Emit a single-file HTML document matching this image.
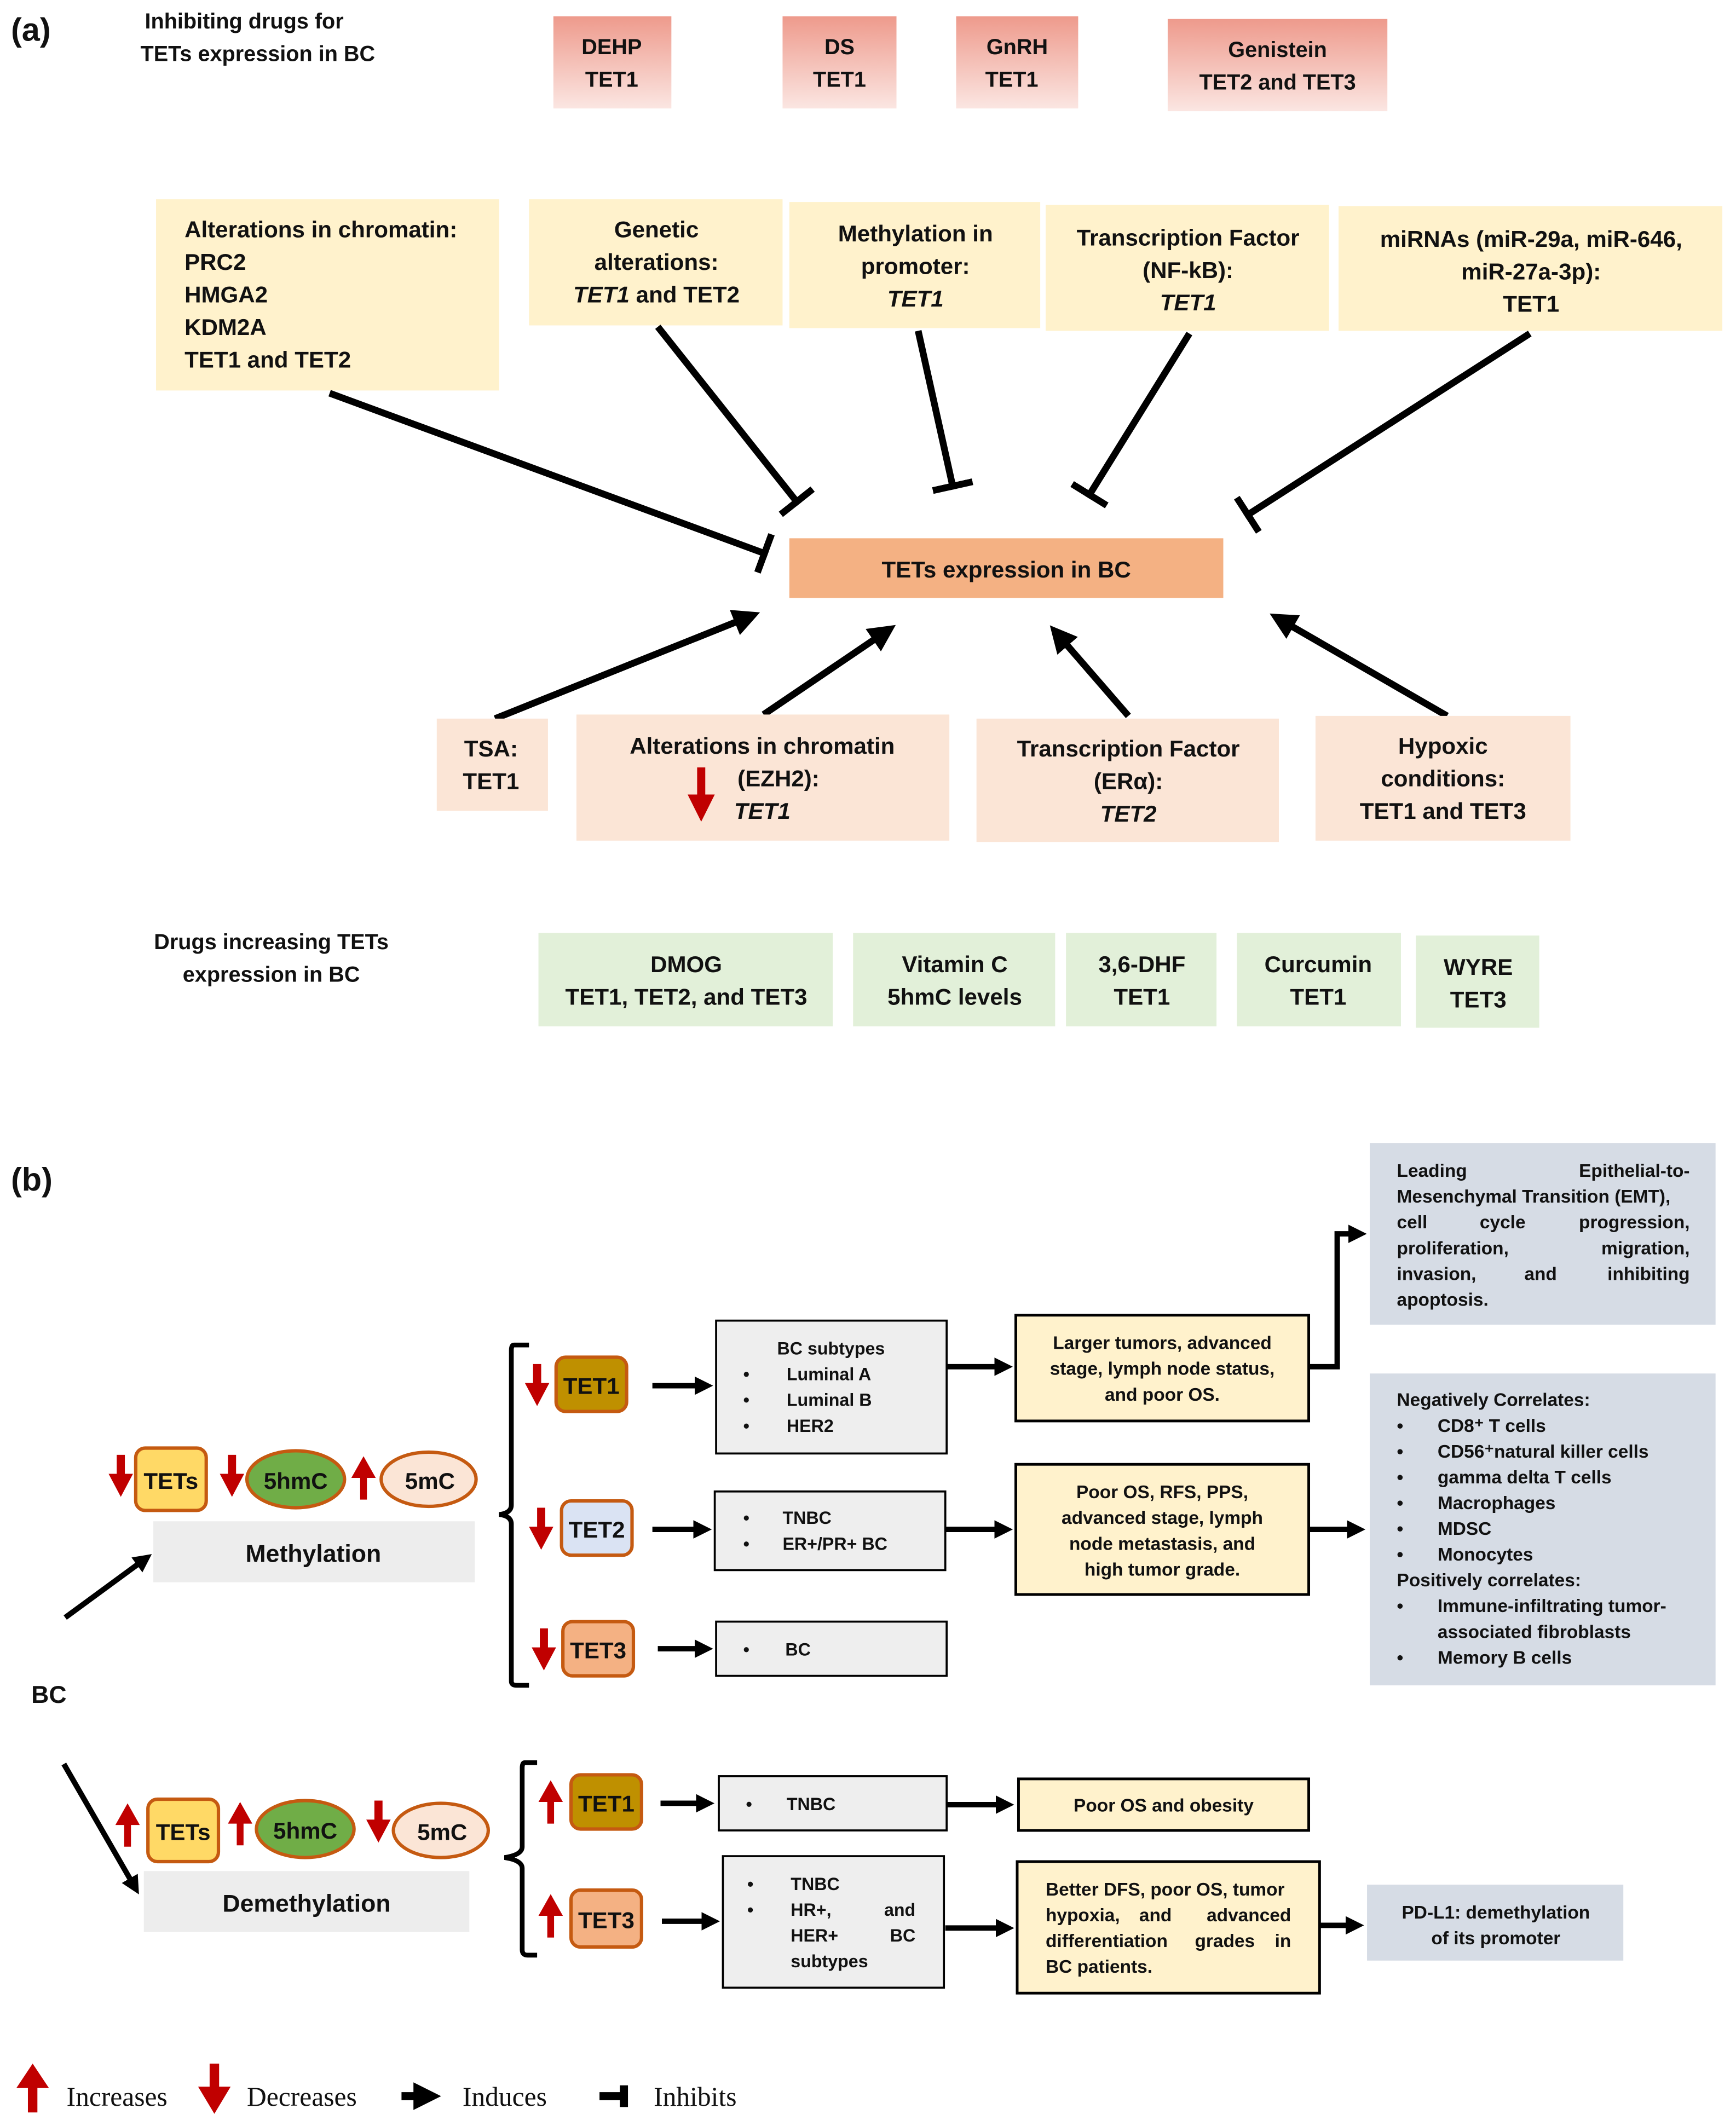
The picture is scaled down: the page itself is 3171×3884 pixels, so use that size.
<!DOCTYPE html>
<html><head><meta charset="utf-8"><style>
html,body{margin:0;padding:0;background:#fff}
svg{display:block}
text{font-family:"Liberation Sans",sans-serif;font-weight:bold;fill:#111}
text.serif{font-family:"Liberation Serif",serif;font-weight:normal}
</style></head><body>
<svg width="3171" height="3884" viewBox="0 0 1280 1568" xmlns="http://www.w3.org/2000/svg">
<defs>
<linearGradient id="rg" x1="0" y1="0" x2="0" y2="1"><stop offset="0" stop-color="#ee9a8c"/><stop offset="1" stop-color="#fbe6e2"/></linearGradient>
<marker id="ah" markerWidth="4" markerHeight="4" refX="2.2" refY="2" orient="auto" markerUnits="strokeWidth"><path d="M0,0 L4,2 L0,4 Z" fill="#000"/></marker>
<marker id="ah2" markerWidth="4" markerHeight="4" refX="2.2" refY="2" orient="auto" markerUnits="strokeWidth"><path d="M0,0.3 L3.4,2 L0,3.7 Z" fill="#000"/></marker>
<marker id="tb" markerWidth="2" markerHeight="6" refX="1" refY="3" orient="auto" markerUnits="strokeWidth"><rect x="0" y="0" width="1" height="6" fill="#000"/></marker>
</defs>
<text x="8" y="30" font-size="24">(a)</text>
<text font-size="16" text-anchor="middle"><tspan x="180" y="21">Inhibiting drugs for</tspan><tspan x="190" y="45">TETs expression in BC</tspan></text>
<g font-size="16" text-anchor="middle">
<rect x="408" y="12" width="87" height="68" fill="url(#rg)"/><text x="451" y="40">DEHP</text><text x="451" y="64">TET1</text>
<rect x="577" y="12" width="84" height="68" fill="url(#rg)"/><text x="619" y="40">DS</text><text x="619" y="64">TET1</text>
<rect x="705" y="12" width="90" height="68" fill="url(#rg)"/><text x="750" y="40">GnRH</text><text x="746" y="64">TET1</text>
<rect x="861" y="14" width="162" height="68" fill="url(#rg)"/><text x="942" y="42">Genistein</text><text x="942" y="66">TET2 and TET3</text>
</g>
<g fill="#fff2cc">
<rect x="115" y="147" width="253" height="141"/><rect x="390" y="147" width="187" height="93"/><rect x="582" y="149" width="185" height="93"/><rect x="771" y="151" width="209" height="93"/><rect x="987" y="152" width="283" height="92"/>
</g>
<g font-size="17">
<text x="136" y="175">Alterations in chromatin:</text><text x="136" y="199">PRC2</text><text x="136" y="223">HMGA2</text><text x="136" y="247">KDM2A</text><text x="136" y="271">TET1 and TET2</text>
</g>
<g font-size="17" text-anchor="middle">
<text x="484" y="175">Genetic</text><text x="484" y="199">alterations:</text><text x="484" y="223"><tspan font-style="italic">TET1</tspan> and TET2</text>
<text x="675" y="178">Methylation in</text><text x="675" y="202">promoter:</text><text x="675" y="226" font-style="italic">TET1</text>
<text x="876" y="181">Transcription Factor</text><text x="876" y="205">(NF-kB):</text><text x="876" y="229" font-style="italic">TET1</text>
<text x="1129" y="182">miRNAs (miR-29a, miR-646,</text><text x="1129" y="206">miR-27a-3p):</text><text x="1129" y="230">TET1</text>
</g>
<rect x="582" y="397" width="320" height="44" fill="#f4b183"/>
<text x="742" y="426" font-size="17" text-anchor="middle">TETs expression in BC</text>
<g stroke="#000" stroke-width="5" fill="none" marker-end="url(#tb)">
<line x1="243" y1="290" x2="566" y2="409"/>
<line x1="485" y1="241" x2="589" y2="372"/>
<line x1="677" y1="244" x2="703" y2="361"/>
<line x1="877" y1="246" x2="802" y2="367"/>
<line x1="1128" y1="246" x2="918" y2="381"/>
</g>
<g stroke="#000" stroke-width="5" fill="none" marker-end="url(#ah)">
<line x1="365" y1="530" x2="552" y2="455"/>
<line x1="563" y1="527" x2="653" y2="466"/>
<line x1="832" y1="528" x2="780" y2="468"/>
<line x1="1067" y1="528" x2="944" y2="457"/>
</g>
<g fill="#fbe5d6">
<rect x="322" y="530" width="82" height="68"/><rect x="425" y="527" width="275" height="93"/><rect x="720" y="530" width="223" height="91"/><rect x="970" y="528" width="188" height="92"/>
</g>
<g font-size="17" text-anchor="middle">
<text x="362" y="558">TSA:</text><text x="362" y="582">TET1</text>
<text x="562" y="556">Alterations in chromatin</text><text x="574" y="580">(EZH2):</text><text x="562" y="604" font-style="italic">TET1</text>
<text x="832" y="558">Transcription Factor</text><text x="832" y="582">(ERα):</text><text x="832" y="606" font-style="italic">TET2</text>
<text x="1064" y="556">Hypoxic</text><text x="1064" y="580">conditions:</text><text x="1064" y="604">TET1 and TET3</text>
</g>
<g fill="#c00000"><rect x="514" y="566" width="6" height="22"/><path d="M507,586 L527,586 L517,606 Z"/></g>
<text font-size="16" text-anchor="middle"><tspan x="200" y="700">Drugs increasing TETs</tspan><tspan x="200" y="724">expression in BC</tspan></text>
<g fill="#e2f0d9">
<rect x="397" y="688" width="217" height="69"/><rect x="629" y="688" width="149" height="69"/><rect x="786" y="688" width="111" height="69"/><rect x="912" y="688" width="121" height="69"/><rect x="1044" y="690" width="91" height="68"/>
</g>
<g font-size="17" text-anchor="middle">
<text x="506" y="717">DMOG</text><text x="506" y="741">TET1, TET2, and TET3</text>
<text x="704" y="717">Vitamin C</text><text x="704" y="741">5hmC levels</text>
<text x="842" y="717">3,6-DHF</text><text x="842" y="741">TET1</text>
<text x="972" y="717">Curcumin</text><text x="972" y="741">TET1</text>
<text x="1090" y="719">WYRE</text><text x="1090" y="743">TET3</text>
</g>

<!-- (b) -->
<text x="8" y="878" font-size="24">(b)</text>
<text x="23" y="1256" font-size="18">BC</text>
<line x1="48" y1="1193" x2="108" y2="1149" stroke="#000" stroke-width="4" marker-end="url(#ah2)"/>
<line x1="47" y1="1301" x2="100" y2="1393" stroke="#000" stroke-width="4" marker-end="url(#ah2)"/>
<rect x="113" y="1122" width="237" height="45" fill="#ededed"/>
<text x="231" y="1152" font-size="18" text-anchor="middle">Methylation</text>
<rect x="106" y="1380" width="240" height="45" fill="#ededed"/>
<text x="226" y="1410" font-size="18" text-anchor="middle">Demethylation</text>

<g stroke="#c55a11" stroke-width="2.5">
<rect x="100" y="1068" width="52" height="46" rx="7" fill="#ffd966"/>
<ellipse cx="218" cy="1091" rx="36" ry="21" fill="#70ad47"/>
<ellipse cx="316" cy="1091" rx="35" ry="20" fill="#fbe5d6"/>
<rect x="109" y="1327" width="52" height="46" rx="7" fill="#ffd966"/>
<ellipse cx="225" cy="1349" rx="36" ry="21" fill="#70ad47"/>
<ellipse cx="325" cy="1350" rx="35" ry="20" fill="#fbe5d6"/>
<rect x="410" y="1001" width="52" height="40" rx="7" fill="#bf9000"/>
<rect x="414" y="1107" width="52" height="40" rx="7" fill="#dae3f3"/>
<rect x="415" y="1196" width="52" height="40" rx="7" fill="#f4b183"/>
<rect x="421" y="1309" width="52" height="40" rx="7" fill="#bf9000"/>
<rect x="421" y="1394" width="52" height="42" rx="7" fill="#f4b183"/>
</g>
<g font-size="17" text-anchor="middle">
<text x="126" y="1098">TETs</text><text x="218" y="1098">5hmC</text><text x="317" y="1098">5mC</text>
<text x="135" y="1357">TETs</text><text x="225" y="1356">5hmC</text><text x="326" y="1357">5mC</text>
<text x="436" y="1028">TET1</text><text x="440" y="1134">TET2</text><text x="441" y="1223">TET3</text>
<text x="447" y="1336">TET1</text><text x="447" y="1422">TET3</text>
</g>
<!-- red arrows -->
<g fill="#c00000">
<g transform="translate(89,1073)"><rect x="-3" y="0" width="6" height="16"/><path d="M-9,14 L9,14 L0,31 Z"/></g>
<g transform="translate(171,1073)"><rect x="-3" y="0" width="6" height="16"/><path d="M-9,14 L9,14 L0,31 Z"/></g>
<g transform="translate(268,1074)"><rect x="-2.5" y="14" width="5" height="18"/><path d="M-9,16 L9,16 L0,0 Z"/></g>
<g transform="translate(396,1006)"><rect x="-3" y="0" width="6" height="16"/><path d="M-9,14 L9,14 L0,31 Z"/></g>
<g transform="translate(399,1112)"><rect x="-3" y="0" width="6" height="16"/><path d="M-9,14 L9,14 L0,31 Z"/></g>
<g transform="translate(401,1201)"><rect x="-3" y="0" width="6" height="16"/><path d="M-9,14 L9,14 L0,31 Z"/></g>
<g transform="translate(94,1330)"><rect x="-2.5" y="14" width="5" height="18"/><path d="M-9,16 L9,16 L0,0 Z"/></g>
<g transform="translate(177,1329)"><rect x="-2.5" y="14" width="5" height="18"/><path d="M-9,16 L9,16 L0,0 Z"/></g>
<g transform="translate(279,1328)"><rect x="-3" y="0" width="6" height="16"/><path d="M-9,14 L9,14 L0,31 Z"/></g>
<g transform="translate(406,1313)"><rect x="-2.5" y="14" width="5" height="18"/><path d="M-9,16 L9,16 L0,0 Z"/></g>
<g transform="translate(406,1397)"><rect x="-2.5" y="14" width="5" height="18"/><path d="M-9,16 L9,16 L0,0 Z"/></g>
</g>
<!-- braces -->
<g stroke="#000" stroke-width="3.5" fill="none">
<path d="M390,992 L379,992 Q377,992 377,996 L377,1110 Q377,1116 368,1117 Q377,1118 377,1124 L377,1240 Q377,1243 381,1243 L390,1243"/>
<path d="M396,1300 L387,1300 Q385,1300 385,1304 L385,1362 Q385,1368 372,1370 Q385,1372 385,1378 L385,1438 Q385,1442 389,1442 L396,1442"/>
</g>
<g stroke="#000" stroke-width="4" fill="none" marker-end="url(#ah2)">
<line x1="481" y1="1022" x2="521" y2="1022"/>
<line x1="481" y1="1128" x2="520" y2="1128"/>
<line x1="485" y1="1216" x2="521" y2="1216"/>
<line x1="487" y1="1330" x2="522" y2="1330"/>
<line x1="488" y1="1417" x2="526" y2="1417"/>
<line x1="698" y1="1008" x2="742" y2="1008"/>
<line x1="697" y1="1128" x2="742" y2="1128"/>
<line x1="698" y1="1331" x2="743" y2="1331"/>
<line x1="697" y1="1422" x2="743" y2="1422"/>
<line x1="965" y1="1128" x2="1002" y2="1128"/>
<line x1="973" y1="1420" x2="1001" y2="1420"/>
<path d="M965,1008 L986,1008 L986,910 L1003,910"/>
</g>
<g stroke="#000" stroke-width="1.5" fill="#eeeeee">
<rect x="528" y="974" width="170" height="98"/>
<rect x="527" y="1100" width="170" height="58"/>
<rect x="528" y="1196" width="170" height="40"/>
<rect x="530" y="1310" width="168" height="40"/>
<rect x="533" y="1369" width="163" height="97"/>
</g>
<g font-size="13">
<text x="573" y="999">BC subtypes</text>
<text x="548" y="1018">•</text><text x="580" y="1018">Luminal A</text>
<text x="548" y="1037">•</text><text x="580" y="1037">Luminal B</text>
<text x="548" y="1056">•</text><text x="580" y="1056">HER2</text>
<text x="548" y="1124">•</text><text x="577" y="1124">TNBC</text>
<text x="548" y="1143">•</text><text x="577" y="1143">ER+/PR+ BC</text>
<text x="548" y="1221">•</text><text x="579" y="1221">BC</text>
<text x="550" y="1335">•</text><text x="580" y="1335">TNBC</text>
<text x="551" y="1394">•</text><text x="583" y="1394">TNBC</text>
<text x="551" y="1413">•</text><text x="583" y="1413">HR+,</text><text x="675" y="1413" text-anchor="end">and</text>
<text x="583" y="1432">HER+</text><text x="675" y="1432" text-anchor="end">BC</text>
<text x="583" y="1451">subtypes</text>
</g>
<g stroke="#000" stroke-width="2" fill="#fff2cc">
<rect x="749" y="970" width="216" height="78"/>
<rect x="749" y="1080" width="216" height="96"/>
<rect x="751" y="1312" width="214" height="38"/>
<rect x="750" y="1373" width="223" height="97"/>
</g>
<g font-size="13.5" text-anchor="middle">
<text x="857" y="995">Larger tumors, advanced</text><text x="857" y="1014">stage, lymph node status,</text><text x="857" y="1033">and poor OS.</text>
<text x="857" y="1105">Poor OS, RFS, PPS,</text><text x="857" y="1124">advanced stage, lymph</text><text x="857" y="1143">node metastasis, and</text><text x="857" y="1162">high tumor grade.</text>
<text x="858" y="1336">Poor OS and obesity</text>
</g>
<g font-size="13.5">
<text x="771" y="1398">Better DFS, poor OS, tumor</text>
<text x="771" y="1417">hypoxia,</text><text x="840" y="1417">and</text><text x="952" y="1417" text-anchor="end">advanced</text>
<text x="771" y="1436">differentiation</text><text x="881" y="1436">grades</text><text x="952" y="1436" text-anchor="end">in</text>
<text x="771" y="1455">BC patients.</text>
</g>
<g fill="#d6dce5">
<rect x="1010" y="843" width="255" height="134"/>
<rect x="1010" y="1013" width="255" height="230"/>
<rect x="1008" y="1390" width="189" height="56"/>
</g>
<g font-size="13.5">
<text x="1030" y="868">Leading</text><text x="1246" y="868" text-anchor="end">Epithelial-to-</text>
<text x="1030" y="887">Mesenchymal Transition (EMT),</text>
<text x="1030" y="906">cell</text><text x="1108" y="906" text-anchor="middle">cycle</text><text x="1246" y="906" text-anchor="end">progression,</text>
<text x="1030" y="925">proliferation,</text><text x="1246" y="925" text-anchor="end">migration,</text>
<text x="1030" y="944">invasion,</text><text x="1136" y="944" text-anchor="middle">and</text><text x="1246" y="944" text-anchor="end">inhibiting</text>
<text x="1030" y="963">apoptosis.</text>
<text x="1030" y="1037">Negatively Correlates:</text>
<text x="1030" y="1056">•</text><text x="1060" y="1056">CD8⁺ T cells</text>
<text x="1030" y="1075">•</text><text x="1060" y="1075">CD56⁺natural killer cells</text>
<text x="1030" y="1094">•</text><text x="1060" y="1094">gamma delta T cells</text>
<text x="1030" y="1113">•</text><text x="1060" y="1113">Macrophages</text>
<text x="1030" y="1132">•</text><text x="1060" y="1132">MDSC</text>
<text x="1030" y="1151">•</text><text x="1060" y="1151">Monocytes</text>
<text x="1030" y="1170">Positively correlates:</text>
<text x="1030" y="1189">•</text><text x="1060" y="1189">Immune-infiltrating tumor-</text>
<text x="1060" y="1208">associated fibroblasts</text>
<text x="1030" y="1227">•</text><text x="1060" y="1227">Memory B cells</text>
<text x="1103" y="1415" text-anchor="middle">PD-L1: demethylation</text>
<text x="1103" y="1434" text-anchor="middle">of its promoter</text>
</g>
<!-- legend -->
<g fill="#c00000">
<g transform="translate(24,1522)"><rect x="-3.5" y="16" width="7" height="20"/><path d="M-12,18 L12,18 L0,0 Z"/></g>
<g transform="translate(158,1522)"><rect x="-3.5" y="0" width="7" height="20"/><path d="M-12,17 L12,17 L0,37 Z"/></g>
</g>
<line x1="296" y1="1546" x2="318" y2="1546" stroke="#000" stroke-width="6" marker-end="url(#ah2)"/>
<line x1="442" y1="1546" x2="458" y2="1546" stroke="#000" stroke-width="6"/>
<rect x="457" y="1538" width="6" height="16" fill="#000"/>
<g font-size="20">
<text class="serif" x="49" y="1553">Increases</text>
<text class="serif" x="182" y="1553">Decreases</text>
<text class="serif" x="341" y="1553">Induces</text>
<text class="serif" x="482" y="1553">Inhibits</text>
</g>
</svg>
</body></html>
